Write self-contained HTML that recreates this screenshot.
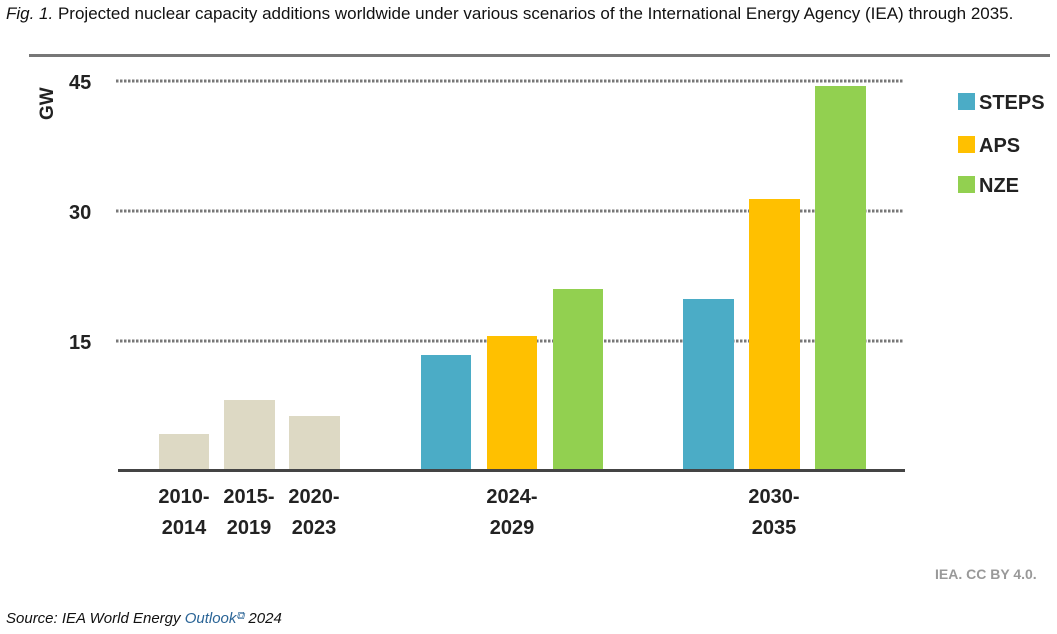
<!DOCTYPE html>
<html><head><meta charset="utf-8"><style>
body{margin:0;width:1057px;height:634px;background:#fff;overflow:hidden;position:relative;font-family:"Liberation Sans",sans-serif}
.t{position:absolute;white-space:nowrap}
</style></head><body>
<div class="t" style="left:6px;top:4px;font-size:17px;color:#111"><i>Fig. 1.</i> Projected nuclear capacity additions worldwide under various scenarios of the International Energy Agency (IEA) through 2035.</div>
<svg width="1057" height="634" style="position:absolute;left:0;top:0">
<rect x="29" y="54" width="1021" height="3" fill="#777"/>
<g stroke="#777" stroke-width="3" stroke-dasharray="2.5,1.5">
<line x1="116" y1="81" x2="904" y2="81"/><line x1="116" y1="211" x2="904" y2="211"/><line x1="116" y1="341" x2="904" y2="341"/>
</g>
<g fill="#ddd9c4"><rect x="159" y="434" width="50" height="36"/><rect x="224" y="400" width="51" height="70"/><rect x="289" y="416" width="51" height="54"/></g>
<rect x="421" y="355" width="50" height="115" fill="#4bacc6"/><rect x="487" y="336" width="50" height="134" fill="#ffc000"/><rect x="553" y="289" width="50" height="181" fill="#92d050"/>
<rect x="683" y="299" width="51" height="171" fill="#4bacc6"/><rect x="749" y="199" width="51" height="271" fill="#ffc000"/><rect x="815" y="86" width="51" height="384" fill="#92d050"/>
<rect x="118" y="469" width="787" height="3" fill="#444"/>
<rect x="958" y="93" width="17" height="17" fill="#4bacc6"/><rect x="958" y="136" width="17" height="17" fill="#ffc000"/><rect x="958" y="176" width="17" height="17" fill="#92d050"/>
<g font-family="Liberation Sans,sans-serif" font-weight="bold" fill="#222" font-size="20">
<text x="979" y="109">STEPS</text><text x="979" y="152">APS</text><text x="979" y="192">NZE</text>
<text x="69" y="89">45</text><text x="69" y="219">30</text><text x="69" y="349">15</text>
<text transform="translate(53,120) rotate(-90)" font-size="19">GW</text>
<g text-anchor="middle"><text x="184" y="503">2010-</text><text x="184" y="534">2014</text>
<text x="249" y="503">2015-</text><text x="249" y="534">2019</text>
<text x="314" y="503">2020-</text><text x="314" y="534">2023</text>
<text x="512" y="503">2024-</text><text x="512" y="534">2029</text>
<text x="774" y="503">2030-</text><text x="774" y="534">2035</text></g>
<text x="935" y="579" font-size="14" fill="#999">IEA. CC BY 4.0.</text>
</g>
</svg>
<div class="t" style="left:6px;top:610px;font-size:15px;font-style:italic;color:#111">Source: IEA World Energy <span style="color:#2a6496">Outlook</span><span style="font-size:11px;color:#2a6496;vertical-align:top">⧉</span> 2024</div>
</body></html>
